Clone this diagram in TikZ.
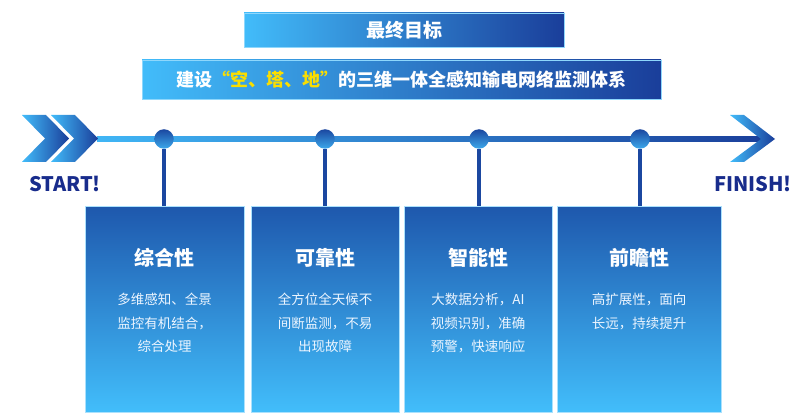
\documentclass[tikz,border=0pt]{standalone}
\usepackage{fontspec}
\setmainfont{Noto Sans}
\newfontfamily\cjk{Noto Sans CJK SC}
\usetikzlibrary{calc}
\definecolor{lb}{RGB}{66,188,250}
\definecolor{db}{RGB}{26,62,154}
\definecolor{boxtop}{RGB}{30,88,173}
\definecolor{boxbot}{RGB}{66,190,251}
\definecolor{stemc}{RGB}{27,71,160}
\definecolor{navy}{RGB}{24,44,140}
\definecolor{goldc}{RGB}{250,222,0}
\definecolor{bodyc}{RGB}{236,245,255}
\tikzset{
  goalbox/.style={left color=lb, right color=db, draw=lb!60!white, line width=0.8pt},
  featbox/.style={top color=boxtop, bottom color=boxbot, draw=white!55!lb, line width=0.9pt, inner sep=0, minimum height=206pt, anchor=north},
  dot/.style={circle, inner sep=0, minimum size=19.5pt, top color=stemc, bottom color=lb!85!db},
  stem/.style={stemc, line width=4.3pt},
  ftitle/.style={text=white, font=\cjk\bfseries\fontsize{20}{24}\selectfont},
  fbody/.style={text=bodyc, font=\cjk\fontsize{13.5}{23.5}\selectfont, align=center, anchor=north, inner sep=0},
  endlabel/.style={text=navy, font=\cjk\bfseries\fontsize{20}{24}\selectfont}
}
\begin{document}
\begin{tikzpicture}[x=1pt,y=-1pt]
\useasboundingbox (0,0) rectangle (805,419);
% goal boxes
\shade[goalbox] (244,13) rectangle (564,47);
\node[text=white, font=\cjk\bfseries\fontsize{19}{23}\selectfont] (goal) at (404,30) {最终目标};
\shade[goalbox] (142,60) rectangle (661,99);
\node[text=white, font=\cjk\bfseries\fontsize{18}{22}\selectfont] (sys) at (401,80)
  {建设\textcolor{goldc}{“空、塔、地”}的三维一体全感知输电网络监测体系};
% timeline
\shade[left color=lb!95!db, right color=db] (97,136.5) rectangle (768,141.5);
% chevrons
\shade[left color=lb, right color=db] (22,115) -- (46,115) -- (69,138.5) -- (46,162) -- (22,162) -- (45,138.5) -- cycle;
\shade[left color=lb, right color=db] (51,115) -- (75,115) -- (98,138.5) -- (75,162) -- (51,162) -- (74,138.5) -- cycle;
% end arrow
\shade[left color=lb, right color=db] (730,115) -- (744,115) -- (775,139) -- (744,162) -- (730,162) -- (761,139) -- cycle;
\node[endlabel] (start) at (65,184) {START!};
\node[endlabel] (finish) at (753,184) {FINISH!};
% feature boxes
\node[featbox, minimum width=159pt] (b1) at (164.5,206) {};
\node[featbox, minimum width=148pt] (b2) at (325,206) {};
\node[featbox, minimum width=148pt] (b3) at (478,206) {};
\node[featbox, minimum width=164pt] (b4) at (639,206) {};
% dots and stems
\node[dot] (d1) at (164,139) {};
\node[dot] (d2) at (325,139) {};
\node[dot] (d3) at (479,139) {};
\node[dot] (d4) at (640,139) {};
\draw[stem] (d1.south) -- (d1.south |- b1.north);
\draw[stem] (d2.south) -- (d2.south |- b2.north);
\draw[stem] (d3.south) -- (d3.south |- b3.north);
\draw[stem] (d4.south) -- (d4.south |- b4.north);
% titles
\node[ftitle] (t1) at (164.5,258) {综合性};
\node[ftitle] (t2) at (325,258) {可靠性};
\node[ftitle] (t3) at (478,258) {智能性};
\node[ftitle] (t4) at (639,258) {前瞻性};
% bodies
\node[fbody] (p1) at (164.5,293) {多维感知、全景\\监控有机结合，\\综合处理};
\node[fbody] (p2) at (325,293) {全方位全天候不\\间断监测，不易\\出现故障};
\node[fbody] (p3) at (478,293) {大数据分析，AI\\视频识别，准确\\预警，快速响应};
\node[fbody] (p4) at (639,293) {高扩展性，面向\\长远，持续提升};
\end{tikzpicture}
\end{document}
